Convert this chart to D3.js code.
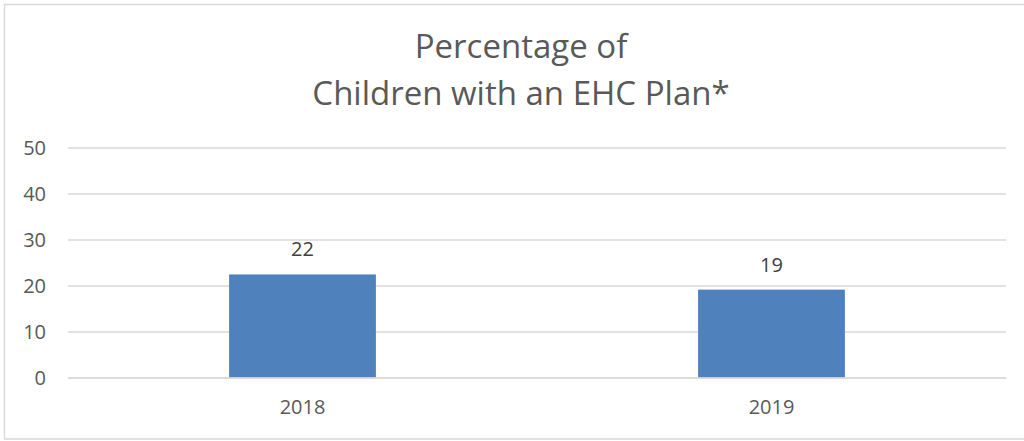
<!DOCTYPE html>
<html>
<head>
<meta charset="utf-8">
<script src="https://cdn.jsdelivr.net/npm/d3@7"></script>
<style>
  html, body { margin: 0; padding: 0; background: #fff; }
  svg { display: block; }
  text { font-family: "Open Sans", Lato, sans-serif; }
</style>
</head>
<body>
<script>
const categories = ["2018", "2019"];
const values = [22.4, 19.1];
const valueLabels = ["22", "19"];
const yTicks = [0, 10, 20, 30, 40, 50];
const titleLines = ["Percentage of", "Children with an EHC Plan*"];

const W = 1024, H = 441;
const svg = d3.select("body").append("svg").attr("width", W).attr("height", H);

svg.append("rect").attr("width", W).attr("height", H).attr("fill", "#fff");
// chart border (right edge runs off the canvas)
svg.append("rect")
  .attr("x", 4.5).attr("y", 4.5).attr("width", 1030).attr("height", 434.5)
  .attr("fill", "#fff").attr("stroke", "#d9d9d9").attr("stroke-width", 1.5);

const plotLeft = 68, plotRight = 1006;
const y = d3.scaleLinear().domain([0, 50]).range([377.5, 147.5]);
const x = d3.scaleBand().domain(categories).range([plotLeft, plotRight])
  .paddingInner(0.687).paddingOuter(0.3435);

// gridlines
const yAxis = d3.axisLeft(y).tickValues(yTicks).tickSize(-(plotRight - plotLeft)).tickPadding(22).tickFormat(d3.format("d"));
const gy = svg.append("g").attr("transform", `translate(${plotLeft},0)`).call(yAxis);
gy.select(".domain").remove();
gy.selectAll(".tick line").attr("stroke", "#d9d9d9").attr("stroke-width", 1.5);
gy.selectAll(".tick text").attr("fill", "#595959").attr("font-size", 20).attr("dy", "0.36em");

// bars
svg.append("g").selectAll("rect").data(values).join("rect")
  .attr("x", (d, i) => x(categories[i]))
  .attr("width", x.bandwidth())
  .attr("y", d => y(d))
  .attr("height", d => y(0) - y(d))
  .attr("fill", "#4f81bd");

// x axis
const xAxis = d3.axisBottom(x).tickSize(0).tickPadding(22);
const gx = svg.append("g").attr("transform", `translate(0,${y(0)})`).call(xAxis);
gx.select(".domain").attr("stroke", "#d9d9d9").attr("stroke-width", 1.5);
gx.selectAll(".tick text").attr("fill", "#595959").attr("font-size", 20);

// data labels
svg.append("g").selectAll("text").data(values).join("text")
  .attr("x", (d, i) => x(categories[i]) + x.bandwidth() / 2)
  .attr("y", d => y(d) - 18)
  .attr("text-anchor", "middle")
  .attr("fill", "#404040")
  .attr("font-size", 20)
  .text((d, i) => valueLabels[i]);

// title
const title = svg.append("g");
const tl = title.selectAll("text").data(titleLines).join("text")
  .attr("x", 521)
  .attr("y", (d, i) => 58 + i * 47)
  .attr("text-anchor", "middle")
  .attr("fill", "#595959")
  .attr("font-size", 30)
  .text(d => d);
// fit second line to target width
const w2 = tl.nodes()[1].getComputedTextLength();
const fs = 30 * 444 / w2;
tl.attr("font-size", Math.min(33, Math.max(26, fs)));
</script>
</body>
</html>
